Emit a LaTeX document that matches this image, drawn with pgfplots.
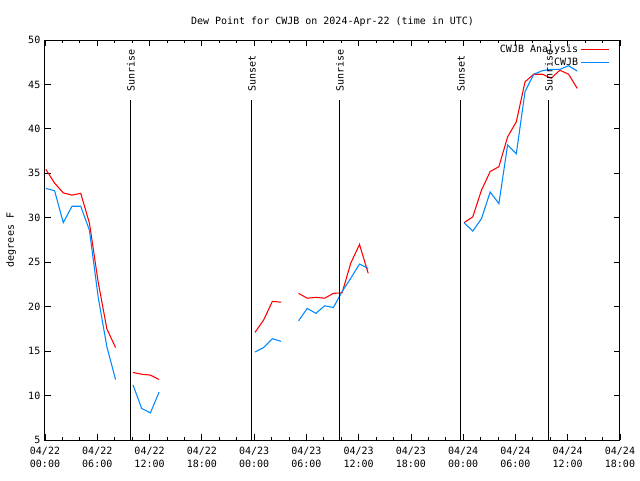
\documentclass[border=0pt]{standalone}
\usepackage{fontspec}
\setmainfont{DejaVu Sans Mono}
\usepackage{pgfplots}
\pgfplotsset{compat=1.18}
\definecolor{cwjbred}{RGB}{255,0,0}
\definecolor{cwjbblue}{RGB}{0,136,255}
\begin{document}
\begin{tikzpicture}
\useasboundingbox (-33.75pt,-30pt) rectangle (446.25pt,330pt);
\begin{axis}[
  at={(0pt,0pt)}, anchor=south west,
  scale only axis, width=431.25pt, height=300pt,
  xmin=0, xmax=66, ymin=5, ymax=50,
  font=\fontsize{7.5}{9.75}\selectfont,
  /pgf/number format/assume math mode=true,
  xtick={0,6,...,66},
  minor x tick num=2,
  xticklabels={{04/22\\00:00},{04/22\\06:00},{04/22\\12:00},{04/22\\18:00},{04/23\\00:00},{04/23\\06:00},{04/23\\12:00},{04/23\\18:00},{04/24\\00:00},{04/24\\06:00},{04/24\\12:00},{04/24\\18:00}},
  xticklabel style={align=center, font=\fontsize{7.5}{9.75}\selectfont, yshift=-2pt},
  ytick={5,10,...,50},
  yticklabel style={font=\fontsize{7.5}{9}\selectfont},
  tick align=inside,
  major tick length=4.5pt, minor tick length=2.25pt,
  tick style={black, line width=0.6pt},
  axis line style={black, line width=0.75pt},
  title={Dew Point for CWJB on 2024-Apr-22 (time in UTC)},
  title style={at={(axis description cs:0.5,1)}, anchor=base, yshift=6pt, font=\fontsize{7.5}{9}\selectfont},
  ylabel={degrees F},
  ylabel style={at={(axis description cs:-0.059,0.5)}, anchor=center, font=\fontsize{7.5}{9}\selectfont},
  unbounded coords=jump,
  legend style={draw=none, fill=none, at={(axis description cs:0.99,1.0025)}, anchor=north east, font=\fontsize{7.5}{9}\selectfont, row sep=-1.5pt},
  legend cell align=right,
  legend plot pos=right,
  legend image code/.code={\draw[#1] (0pt,0pt) -- (21pt,0pt);},
]
\addplot[cwjbred, line width=0.8pt] coordinates {
(0.1,35.45) (1.1,33.9) (2.1,32.8) (3.1,32.55) (4.1,32.75) (5.1,29.4) (6.1,22.8) (7.1,17.5) (8.1,15.4)
(9.1,nan)
(10.1,12.6) (11.1,12.4) (12.1,12.3) (13.1,11.8)
(14,nan)
(24.1,17.1) (25.1,18.5) (26.1,20.6) (27.1,20.5)
(28,nan)
(29.1,21.5) (30.1,20.95) (31.1,21.05) (32.1,20.95) (33.1,21.5) (34.1,21.55) (35.1,24.9) (36.1,27.0) (37.1,23.75)
(38,nan)
(48.1,29.45) (49.1,30.1) (50.1,33.1) (51.1,35.2) (52.1,35.75) (53.1,39.1) (54.1,40.8) (55.1,45.3) (56.1,46.15) (57.1,46.15) (58.1,45.7) (59.1,46.6) (60.1,46.15) (61.1,44.55)
};
\addlegendentry{CWJB Analysis}
\addplot[cwjbblue, line width=0.8pt] coordinates {
(0.1,33.3) (1.1,33.05) (2.1,29.45) (3.1,31.3) (4.1,31.3) (5.1,28.6) (6.1,21.1) (7.1,15.5) (8.1,11.8)
(9.1,nan)
(10.1,11.2) (11.1,8.55) (12.1,8.05) (13.1,10.4)
(14,nan)
(24.1,14.9) (25.1,15.4) (26.1,16.4) (27.1,16.1)
(28,nan)
(29.1,18.4) (30.1,19.8) (31.1,19.25) (32.1,20.1) (33.1,19.9) (34.1,21.7) (35.1,23.2) (36.1,24.8) (37.1,24.3)
(38,nan)
(48.1,29.45) (49.1,28.5) (50.1,29.9) (51.1,32.9) (52.1,31.6) (53.1,38.2) (54.1,37.2) (55.1,44.2) (56.1,46.15) (57.1,46.55) (58.1,46.7) (59.1,46.7) (60.1,47.1) (61.1,46.5)
};
\addlegendentry{CWJB}
\addplot[black, line width=0.75pt, forget plot] coordinates {(9.87,5) (9.87,43.25)};
\addplot[black, line width=0.75pt, forget plot] coordinates {(23.76,5) (23.76,43.25)};
\addplot[black, line width=0.75pt, forget plot] coordinates {(33.86,5) (33.86,43.25)};
\addplot[black, line width=0.75pt, forget plot] coordinates {(47.75,5) (47.75,43.25)};
\addplot[black, line width=0.75pt, forget plot] coordinates {(57.85,5) (57.85,43.25)};
\node[rotate=90, anchor=west, inner sep=0pt, font=\fontsize{7.5}{9}\selectfont] at (axis cs:9.87,44.15) {Sunrise};
\node[rotate=90, anchor=west, inner sep=0pt, font=\fontsize{7.5}{9}\selectfont] at (axis cs:23.76,44.15) {Sunset};
\node[rotate=90, anchor=west, inner sep=0pt, font=\fontsize{7.5}{9}\selectfont] at (axis cs:33.86,44.15) {Sunrise};
\node[rotate=90, anchor=west, inner sep=0pt, font=\fontsize{7.5}{9}\selectfont] at (axis cs:47.75,44.15) {Sunset};
\node[rotate=90, anchor=west, inner sep=0pt, font=\fontsize{7.5}{9}\selectfont] at (axis cs:57.85,44.15) {Sunrise};
\end{axis}
\end{tikzpicture}
\end{document}
